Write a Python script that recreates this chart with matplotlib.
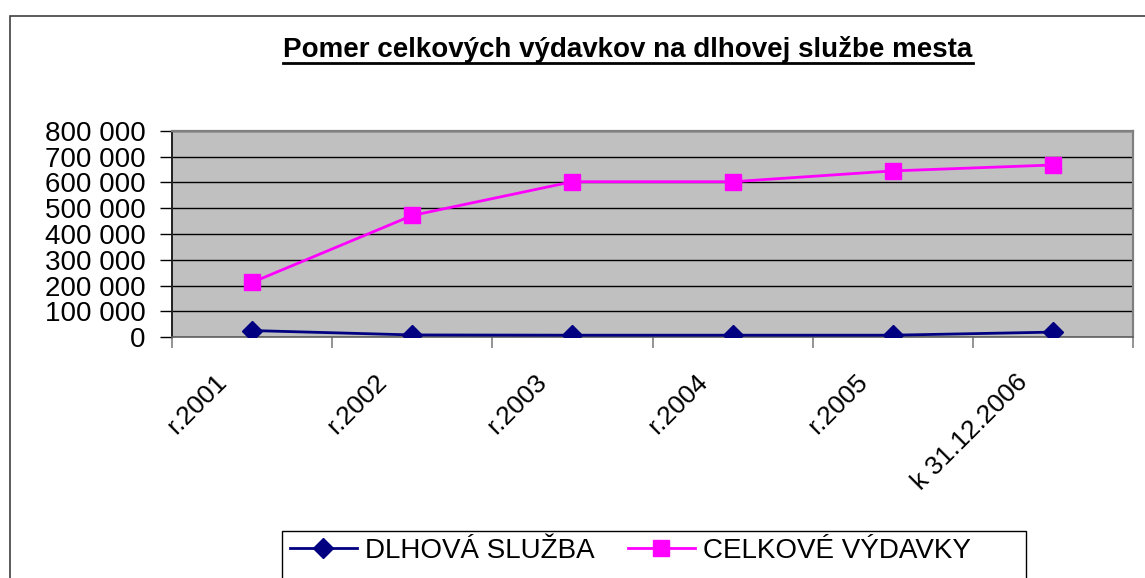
import matplotlib

matplotlib.use("Agg")
import matplotlib.pyplot as plt
from matplotlib.lines import Line2D
from matplotlib.patches import Rectangle
from matplotlib.ticker import FuncFormatter, MultipleLocator
from matplotlib.transforms import ScaledTranslation
import numpy as np

TITLE = "Pomer celkových výdavkov na dlhovej službe mesta"
CATEGORIES = ["r.2001", "r.2002", "r.2003", "r.2004", "r.2005", "k 31.12.2006"]
DLHOVA_SLUZBA = [25000, 8000, 7000, 7000, 7000, 19000]
CELKOVE_VYDAVKY = [212000, 472000, 603000, 603000, 645000, 668000]
SERIES_LABELS = ["DLHOVÁ SLUŽBA", "CELKOVÉ VÝDAVKY"]

FONT = ["Liberation Sans", "DejaVu Sans"]
plt.rcParams["font.family"] = FONT

fig = plt.figure(figsize=(11.45, 5.78), dpi=100)
fig.patch.set_facecolor("white")

# outer chart frame (Excel style), right and bottom edges fall outside
fig.patches.append(Rectangle((10 / 1145, -0.2), 1.2, 1.2 - 16 / 578,
                             transform=fig.transFigure, fill=False,
                             edgecolor="#404040", linewidth=1.2, clip_on=False))

ax = fig.add_axes([172 / 1145, 1 - 337 / 578, (1133 - 172) / 1145, (337 - 131) / 578])
ax.set_facecolor("#C0C0C0")

x = np.arange(len(CATEGORIES))
ax.plot(x, DLHOVA_SLUZBA, color="#000080", linewidth=2.0, marker="D",
        markersize=10, markerfacecolor="#000080", markeredgecolor="#000080",
        label=SERIES_LABELS[0], zorder=4)
ax.plot(x, CELKOVE_VYDAVKY, color="#FF00FF", linewidth=2.0, marker="s",
        markersize=12, markerfacecolor="#FF00FF", markeredgecolor="#FF00FF",
        label=SERIES_LABELS[1], zorder=4)

ax.set_xlim(-0.5, len(CATEGORIES) - 0.5)
ax.set_ylim(0, 800000)
ax.yaxis.set_major_locator(MultipleLocator(100000))
ax.yaxis.set_major_formatter(FuncFormatter(lambda v, p: f"{int(v):,}".replace(",", " ")))
ax.grid(axis="y", color="black", linewidth=1.0)
ax.set_axisbelow(True)

ax.set_xticks(x)
ax.set_xticklabels(CATEGORIES, fontsize=19, rotation=45, ha="right",
                   va="center", rotation_mode="anchor")
ax.set_xticks(np.arange(len(CATEGORIES) + 1) - 0.5, minor=True)
ax.tick_params(axis="x", which="major", length=0, pad=30)
ax.tick_params(axis="x", which="minor", length=8, color="#808080", width=1.2)
ax.tick_params(axis="y", length=9, width=1.0, color="black", labelsize=20, pad=10)
offset = ScaledTranslation(-0.29, 0, fig.dpi_scale_trans)
for lbl in ax.get_xticklabels():
    lbl.set_transform(lbl.get_transform() + offset)

ax.spines["left"].set_color("#202020")
ax.spines["left"].set_linewidth(1.4)
ax.spines["bottom"].set_color("#606060")
ax.spines["bottom"].set_linewidth(1.2)
for side in ("top", "right"):
    ax.spines[side].set_color("#808080")
    ax.spines[side].set_linewidth(1.6)

title = fig.text(628 / 1145, 1 - 57 / 578, TITLE, ha="center", va="baseline",
                 fontsize=20, fontweight="bold")

# legend box, bottom edge falls outside the picture like the reference
fig.patches.append(Rectangle((282 / 1145, -0.1), (1026 - 282) / 1145, 0.1 + 1 - 531 / 578,
                             transform=fig.transFigure, fill=False,
                             edgecolor="black", linewidth=1.0, clip_on=False))
handles, labels = ax.get_legend_handles_labels()
fig.legend(handles, labels, loc="center left",
           bbox_to_anchor=(290 / 1145, 1 - 551 / 578), ncol=2, frameon=False,
           fontsize=20, handlelength=2.4, handletextpad=0.3, columnspacing=1.2,
           borderaxespad=0.0, borderpad=0.0)

# underline the title
fig.canvas.draw()
bb = title.get_window_extent().transformed(fig.transFigure.inverted())
fig.add_artist(Line2D([bb.x0, bb.x1], [1 - 63 / 578] * 2, transform=fig.transFigure,
                      color="black", linewidth=2.0))

fig.savefig("out.png", dpi=100)
